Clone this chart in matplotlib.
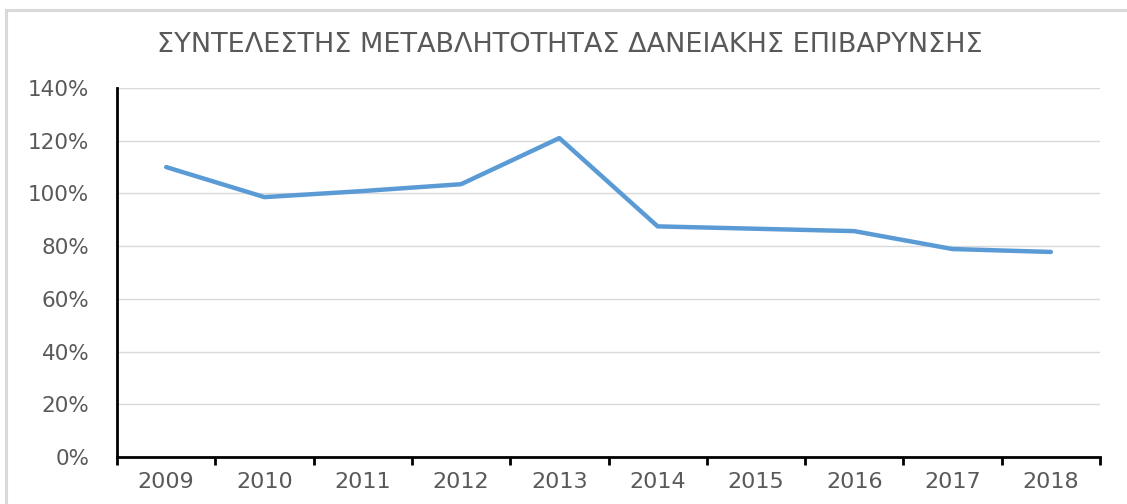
import matplotlib
matplotlib.use("Agg")
import matplotlib.pyplot as plt
from matplotlib.ticker import FixedLocator, PercentFormatter
from matplotlib.lines import Line2D

years = ["2009", "2010", "2011", "2012", "2013", "2014", "2015", "2016", "2017", "2018"]
values = [110.0, 98.6, 100.9, 103.5, 121.0, 87.5, 86.6, 85.7, 78.9, 77.8]
yticks = [0, 20, 40, 60, 80, 100, 120, 140]
title = "ΣΥΝΤΕΛΕΣΤΗΣ ΜΕΤΑΒΛΗΤΟΤΗΤΑΣ ΔΑΝΕΙΑΚΗΣ ΕΠΙΒΑΡΥΝΣΗΣ"

W, H = 1127, 504
fig = plt.figure(figsize=(W / 100, H / 100), dpi=100)
# chart frame (top and left edges visible)
fig.lines.append(Line2D([6 / W, 1.0], [1 - 10 / H, 1 - 10 / H], transform=fig.transFigure,
                        color="#d9d9d9", linewidth=2.2))
fig.lines.append(Line2D([6 / W, 6 / W], [0.0, 1 - 10 / H], transform=fig.transFigure,
                        color="#d9d9d9", linewidth=2.2))

ax = fig.add_axes([117 / W, 1 - 457 / H, (1100 - 117) / W, (457 - 88) / H])

x = list(range(len(years)))
ax.plot(x, values, color="#5B9BD5", linewidth=3.2, solid_capstyle="round",
        solid_joinstyle="round", zorder=3)

ax.set_xlim(-0.5, len(years) - 0.5)
ax.set_ylim(0, 140)
ax.set_yticks(yticks)
ax.yaxis.set_major_formatter(PercentFormatter(decimals=0))
ax.grid(axis="y", color="#d9d9d9", linewidth=1.0, zorder=0)

ax.xaxis.set_major_locator(FixedLocator([i - 0.5 for i in range(len(years) + 1)]))
ax.xaxis.set_minor_locator(FixedLocator(x))
ax.set_xticklabels([], minor=False)
ax.set_xticklabels(years, minor=True)
ax.tick_params(axis="x", which="major", length=6, width=2, color="black", direction="out")
ax.tick_params(axis="x", which="minor", length=0, pad=11, labelsize=16, labelcolor="#595959")
ax.tick_params(axis="y", length=0, pad=20, labelsize=15.5, labelcolor="#595959")

for s in ["top", "right"]:
    ax.spines[s].set_visible(False)
for s in ["left", "bottom"]:
    ax.spines[s].set_linewidth(2)
    ax.spines[s].set_color("black")

fig.text(570 / W, 1 - 45 / H, title, ha="center", va="center", fontsize=19.5,
         color="#595959", family="DejaVu Sans")

fig.savefig("out.png", dpi=100)
